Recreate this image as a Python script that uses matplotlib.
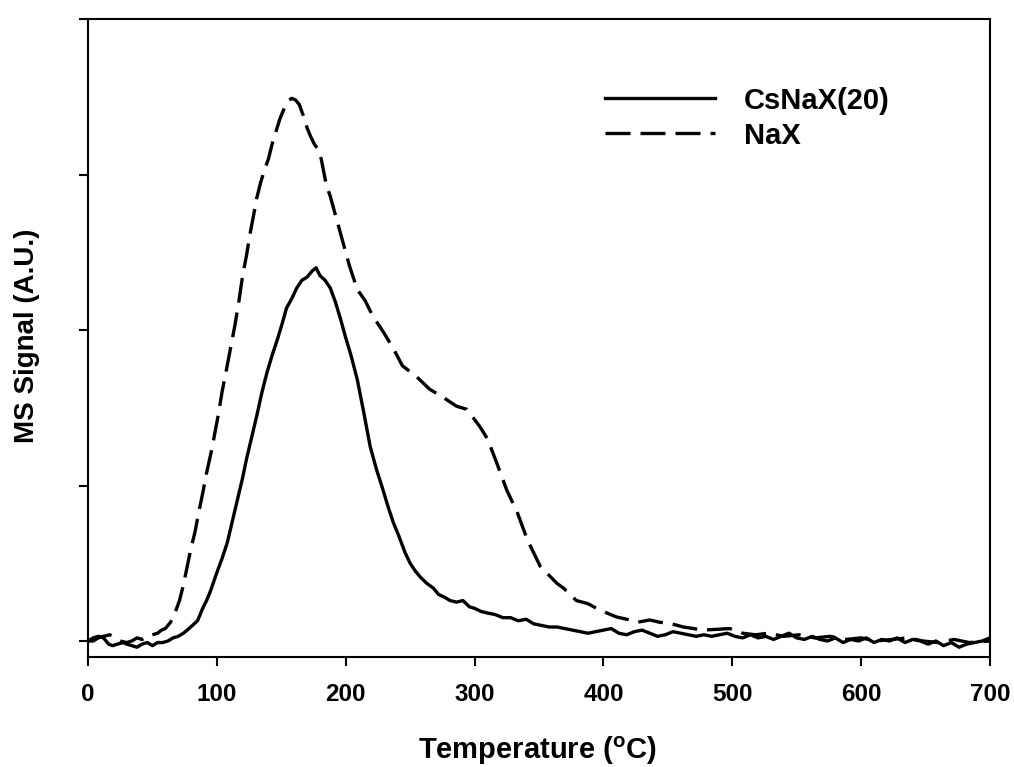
import matplotlib
matplotlib.use("Agg")
import matplotlib.pyplot as plt
import numpy as np

plt.rcParams['font.family'] = ['Liberation Sans', 'DejaVu Sans']
plt.rcParams['font.weight'] = 'bold'
plt.rcParams['mathtext.fontset'] = 'custom'
plt.rcParams['mathtext.rm'] = 'Liberation Sans:bold'
plt.rcParams['mathtext.bf'] = 'Liberation Sans:bold'

# CsNaX(20) desorption trace
temp_cs = [0, 4, 8, 12, 16, 19, 23, 27, 30, 34,
           38, 42, 46, 50, 54, 58, 62, 66, 70, 74,
           77, 81, 85, 89, 92, 95, 100, 104, 108, 112,
           116, 120, 123, 127, 131, 135, 139, 143, 147, 151,
           154, 158, 162, 166, 170, 174, 177, 180, 184, 188,
           192, 196, 200, 204, 209, 214, 219, 224, 229, 233,
           237, 241, 246, 250, 254, 258, 263, 268, 272, 277,
           281, 286, 291, 296, 300, 305, 310, 316, 322, 328,
           334, 340, 346, 352, 358, 364, 370, 376, 382, 388,
           394, 400, 406, 412, 418, 424, 430, 436, 442, 448,
           454, 460, 466, 472, 478, 484, 490, 496, 502, 508,
           514, 520, 526, 532, 538, 544, 550, 556, 562, 568,
           574, 580, 586, 592, 598, 604, 610, 616, 622, 628,
           634, 640, 646, 652, 658, 664, 670, 676, 682, 688,
           694, 700]
sig_cs = [0.00, 0.02, 0.03, 0.02, -0.02, -0.03, -0.02, -0.01, -0.02, -0.03,
          -0.04, -0.02, -0.01, -0.03, -0.01, -0.01, 0.00, 0.02, 0.03, 0.05,
          0.07, 0.10, 0.13, 0.21, 0.26, 0.32, 0.44, 0.53, 0.63, 0.77,
          0.91, 1.05, 1.17, 1.31, 1.45, 1.60, 1.73, 1.84, 1.94, 2.05,
          2.14, 2.20, 2.27, 2.32, 2.34, 2.38, 2.40, 2.35, 2.32, 2.27,
          2.18, 2.07, 1.95, 1.84, 1.68, 1.47, 1.25, 1.10, 0.97, 0.86,
          0.76, 0.68, 0.57, 0.50, 0.45, 0.41, 0.37, 0.34, 0.30, 0.28,
          0.26, 0.25, 0.26, 0.22, 0.21, 0.19, 0.18, 0.17, 0.15, 0.15,
          0.13, 0.14, 0.11, 0.10, 0.09, 0.09, 0.08, 0.07, 0.06, 0.05,
          0.06, 0.07, 0.08, 0.05, 0.04, 0.06, 0.07, 0.05, 0.03, 0.04,
          0.06, 0.05, 0.04, 0.03, 0.04, 0.03, 0.04, 0.05, 0.03, 0.02,
          0.04, 0.02, 0.03, 0.01, 0.03, 0.05, 0.02, 0.01, 0.03, 0.01,
          0.00, 0.02, -0.01, 0.01, 0.00, 0.02, -0.01, 0.01, 0.00, 0.02,
          -0.01, 0.01, 0.00, -0.02, 0.00, -0.03, -0.01, -0.04, -0.02, -0.01,
          0.00, 0.02]

# NaX desorption trace
temp_nax = [0, 4, 8, 12, 17, 21, 25, 30, 34, 38,
            42, 46, 50, 54, 57, 60, 64, 67, 71, 74,
            77, 80, 83, 86, 89, 92, 96, 101, 104, 108,
            111, 114, 117, 120, 123, 126, 129, 131, 134, 137,
            140, 143, 146, 149, 152, 155, 158, 161, 164, 167,
            170, 173, 176, 178, 181, 185, 188, 195, 203, 209,
            215, 221, 229, 237, 244, 255, 265, 275, 286, 294,
            304, 310, 317, 325, 333, 341, 351, 364, 369, 379,
            388, 397, 410, 418, 426, 436, 444, 451, 462, 470,
            477, 488, 498, 508, 518, 528, 540, 552, 564, 576,
            588, 600, 612, 624, 636, 648, 660, 672, 684, 700]
sig_nax = [0.00, 0.00, 0.02, 0.03, 0.04, 0.02, 0.00, -0.01, 0.00, 0.02,
           0.01, 0.03, 0.04, 0.05, 0.07, 0.08, 0.12, 0.17, 0.26, 0.36,
           0.48, 0.60, 0.70, 0.83, 0.95, 1.08, 1.23, 1.45, 1.60, 1.77,
           1.90, 2.03, 2.18, 2.35, 2.48, 2.63, 2.76, 2.85, 2.95, 3.03,
           3.10, 3.20, 3.28, 3.36, 3.42, 3.47, 3.49, 3.48, 3.45, 3.38,
           3.30, 3.24, 3.19, 3.17, 3.10, 2.93, 2.86, 2.65, 2.41, 2.26,
           2.19, 2.09, 1.99, 1.88, 1.77, 1.70, 1.62, 1.57, 1.51, 1.49,
           1.38, 1.30, 1.15, 0.97, 0.83, 0.65, 0.48, 0.37, 0.34, 0.26,
           0.24, 0.20, 0.155, 0.14, 0.12, 0.135, 0.12, 0.115, 0.09, 0.08,
           0.07, 0.075, 0.08, 0.05, 0.04, 0.05, 0.03, 0.04, 0.02, 0.03,
           0.01, 0.02, 0.00, 0.01, 0.02, 0.00, -0.01, 0.01, -0.01, 0.00]

xticks = [0, 100, 200, 300, 400, 500, 600, 700]
yticks = [0, 1, 2, 3, 4]

W, H = 1014, 767
fig = plt.figure(figsize=(W / 100, H / 100), dpi=100)
ax = fig.add_axes([0.0868, 0.1434, 0.8895, 0.8318])

ax.plot(temp_cs, sig_cs, color='black', lw=2.4, solid_joinstyle='round',
        label='CsNaX(20)')
ax.plot(temp_nax, sig_nax, color='black', lw=2.4, dashes=(7.5, 3),
        dash_joinstyle='round', label='NaX')

ax.set_xlim(0, 700)
ax.set_ylim(-0.103, 4.0)
ax.set_xticks(xticks)
ax.set_yticks(yticks)
ax.set_yticklabels([])
ax.tick_params(direction='out', length=6.5, width=1.5, labelsize=17.5, pad=12)
for s in ax.spines.values():
    s.set_linewidth(1.5)

# axis titles placed in figure pixels
fig.text(538 / W, 1 - 759 / H, r'Temperature ($^{\mathbf{o}}$C)', fontsize=21,
         fontweight='bold', ha='center', va='baseline')
fig.text(27 / W, 1 - 336 / H, 'MS Signal (A.U.)', fontsize=20,
         fontweight='bold', rotation=90, ha='center', va='center')

ax.legend(loc='upper left', bbox_to_anchor=(0.573, 0.894), frameon=False,
          fontsize=21, handlelength=3.77, handletextpad=1.0, labelspacing=0.24,
          borderpad=0, borderaxespad=0)

fig.savefig('out.png', dpi=100)
